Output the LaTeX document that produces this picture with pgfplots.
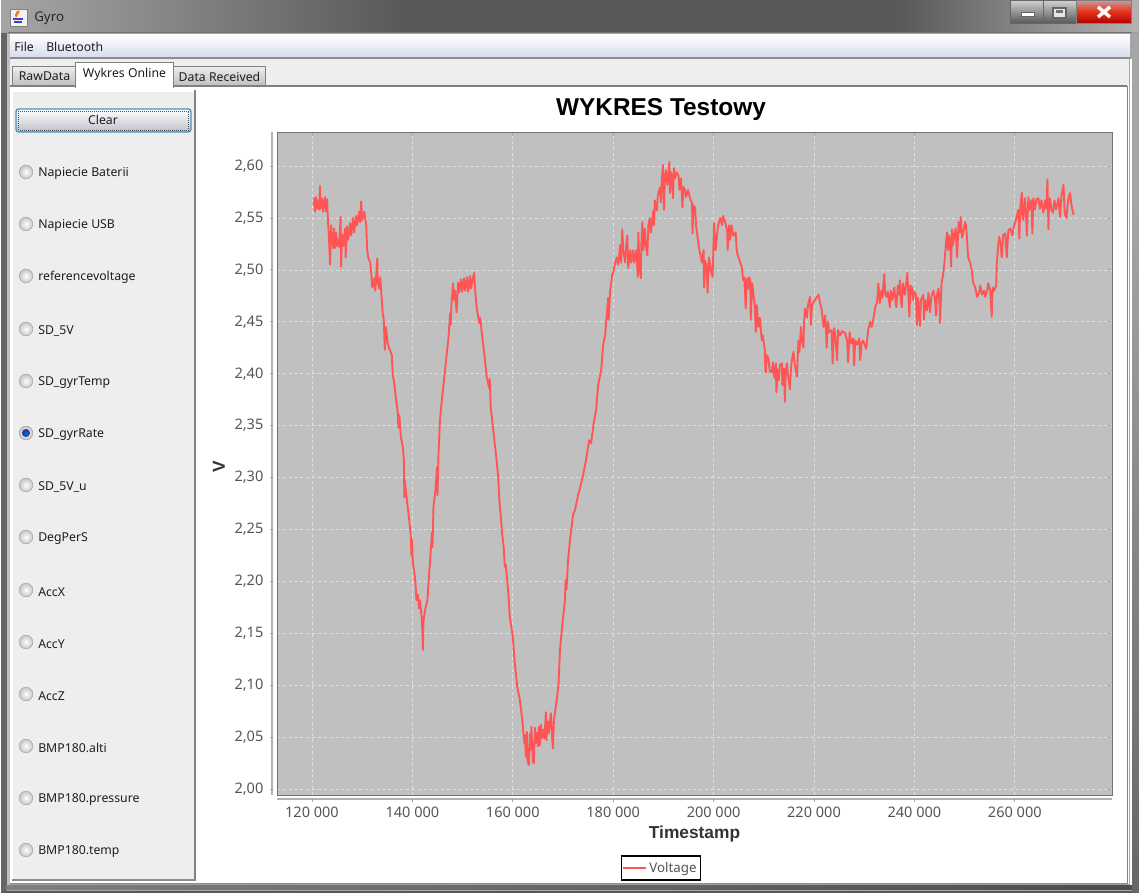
\documentclass[border=0pt]{standalone}
\usepackage{fontspec}
\setmainfont{Noto Sans}
\newfontfamily\boldf{Liberation Sans}[BoldFont={Liberation Sans Bold}]
\usepackage{pgfplots}
\pgfplotsset{compat=1.18}
\definecolor{linec}{RGB}{255,85,85}
\definecolor{plotbg}{RGB}{192,192,192}
\definecolor{panel}{RGB}{238,238,238}
\definecolor{frameg}{RGB}{160,160,160}
\definecolor{tickc}{RGB}{85,85,85}
\definecolor{uitext}{RGB}{30,30,30}
\definecolor{selblue}{RGB}{74,144,192}
\definecolor{menub}{RGB}{214,220,238}
\newcommand{\ui}{\fontsize{9.2pt}{11pt}\selectfont\color{uitext}}
\begin{document}
\begin{tikzpicture}
\useasboundingbox (0,0) rectangle (855pt,-671.25pt);
\begin{scope}[x=0.75pt,y=-0.75pt]
% window frame
\fill[white] (0,0) rectangle (1140,895);
\fill[frameg] (1,0) rectangle (1139,893);
\shade[left color=gray!70,right color=black!65] (1,0) rectangle (400,32);
\fill[black!65] (400,0) rectangle (900,32);
\shade[left color=black!65,right color=gray!60] (900,0) rectangle (1139,32);
\fill[black!55] (8,32) rectangle (1132,33.5);
\fill[black!60] (1.5,33) rectangle (6.5,892);
\fill[black!25] (6.5,34) rectangle (9.5,885);
% window buttons
\shade[top color=gray!35,bottom color=black!65,draw=black!60] (1010,0) rectangle (1043,23);
\shade[top color=gray!35,bottom color=black!65,draw=black!60] (1043,0) rectangle (1076,23);
\shade[top color=red!25!gray!60,bottom color=red!70!black,middle color=red!60!brown,draw=black!50] (1076,0) rectangle (1131,23);
\fill[white,draw=black!60] (1021,12) rectangle (1034,16);
\draw[black!60,line width=1.2pt,fill=white!80!gray] (1053,8) rectangle (1066,18);
\fill[black!55] (1056,10) rectangle (1063,13);
\draw[white,line width=2.6pt] (1098,7) -- (1110,17) (1098,17) -- (1110,7);
% Java icon
\fill[white!90!gray,draw=gray] (10,9) rectangle (27,26);
\fill[orange!90!red] (17,11) -- (20,11) -- (16,18) -- (15,15) -- cycle;
\draw[blue!50!gray,line width=.8pt] (13,19) -- (23,19) (14,22) -- (22,22);
\node[anchor=west,inner sep=0pt,text=black!85,font=\fontsize{10pt}{12pt}\selectfont] at (34,18) {Gyro};
% client
\fill[white] (9.5,34) rectangle (1130,884);
\shade[top color=white,bottom color=menub] (10,35) rectangle (1130,57);
\fill[black!45] (10,57.5) rectangle (1130,59);
\fill[panel] (10,59) rectangle (1130,86);
\node[anchor=west,inner sep=0pt] at (14,47) {\ui File};
\node[anchor=west,inner sep=0pt] at (46,47) {\ui Bluetooth};
% tabs
\shade[top color=panel,bottom color=black!25,draw=gray] (12,66) rectangle (75,86);
\shade[top color=panel,bottom color=black!25,draw=gray] (173,66) rectangle (265,86);
\fill[white] (10,87) rectangle (1127,884);
\draw[gray,line width=.9pt] (10,86) -- (1127,86) (1127.5,86) -- (1127.5,884);
\fill[white,draw=gray] (75,62) -- (173,62) -- (173,87) -- (75,87) -- cycle;
\fill[white] (75.5,84) rectangle (172.5,88);
\node[inner sep=0pt] at (44.5,76.5) {\ui RawData};
\node[inner sep=0pt] at (124.5,74.5) {\ui Wykres Online};
\node[inner sep=0pt] at (219.5,76.5) {\ui Data Received};
% left panel
\fill[panel] (13,92) rectangle (194,879);
\draw[black!50,line width=1.4pt] (195,90) -- (195,881);
\draw[black!45,line width=1pt] (12,880) -- (195,880);
% Clear
\shade[top color=white,bottom color=blue!10!gray!45,draw=selblue,line width=1pt,rounded corners=2pt] (16,109) rectangle (191,132);
\draw[black!70,densely dotted,line width=.5pt] (18.5,111) rectangle (188.5,130);
\node[inner sep=0pt] at (103,120) {\ui Clear};
% radios
\foreach \yy/\lbl in {172/Napiecie Baterii,224/Napiecie USB,276/referencevoltage,329/SD\_5V,381/SD\_gyrTemp,433/SD\_gyrRate,485/SD\_5V\_u,537/DegPerS,590/AccX,642/AccY,694/AccZ,746/BMP180.alti,798/BMP180.pressure,850/BMP180.temp}{
  \shade[inner color=white,outer color=gray!45,draw=gray!70] (26,\yy) circle[radius=6.8];
  \node[anchor=west,inner sep=0pt] at (38,\yy+1.7) {\ui \lbl};
}
\shade[inner color=blue!30!cyan!70!black,outer color=blue!60!black!85] (26,433) circle[radius=4];
% offset axis lines
\draw[black!30,line width=1pt] (272,132) -- (272,795);
\draw[black!30,line width=1pt] (277,799) -- (1112,799);
\end{scope}
\begin{axis}[
  at={(207.75pt,-596.25pt)},anchor=south west,
  scale only axis,width=626.25pt,height=497.25pt,
  xmin=113030,xmax=279360,ymin=1.9942,ymax=2.6328,
  xtick={120000,140000,160000,180000,200000,220000,240000,260000},
  ytick={2.00,2.05,2.10,2.15,2.20,2.25,2.30,2.35,2.40,2.45,2.50,2.55,2.60},
  scaled x ticks=false,scaled y ticks=false,
  xticklabels={120 000,140 000,160 000,180 000,200 000,220 000,240 000,260 000},
  yticklabels={{2,00},{2,05},{2,10},{2,15},{2,20},{2,25},{2,30},{2,35},{2,40},{2,45},{2,50},{2,55},{2,60}},
  axis background/.style={fill=plotbg},
  axis line style={draw=black!55,line width=.7pt},
  grid=major,
  grid style={draw=white!88!black,dash pattern=on 2.2pt off 2.2pt,line width=.55pt},
  tick align=outside,major tick length=2.2pt,
  x tick style={draw=black!35,line width=.6pt,yshift=-3pt},
  y tick style={draw=black!35,line width=.6pt,xshift=-3pt},
  xticklabel style={font=\fontsize{10.9pt}{12pt}\selectfont,text=tickc,yshift=-3.5pt},
  yticklabel style={font=\fontsize{10.9pt}{12pt}\selectfont,text=tickc,xshift=-4.5pt},
  xlabel={Timestamp},ylabel={V},
  x label style={at={(axis description cs:0.5,-0.0590)},anchor=center,font=\boldf\bfseries\fontsize{13pt}{15pt}\selectfont,text=black!80},
  y label style={at={(axis description cs:-0.0695,0.4947)},anchor=center,rotate=0,font=\boldf\bfseries\fontsize{13pt}{15pt}\selectfont,text=black!80},
  title={WYKRES Testowy},
  title style={at={(axis description cs:0.4599,1.0377)},anchor=center,yshift=-8.2pt,font=\boldf\bfseries\fontsize{18.3pt}{21pt}\selectfont,text=black},
  legend style={at={(axis description cs:0.4599,-0.1101)},anchor=center,draw=black,line width=1.1pt,fill=white,
     font=\fontsize{10pt}{12pt}\selectfont,text=tickc,inner xsep=1pt,inner ysep=2.4pt},
  legend image post style={line width=.9pt},
]
\addplot[color=linec,line width=1.4pt,line join=round] coordinates {
(120340,2.562)(120500,2.569)(120600,2.556)(120800,2.570)(121000,2.559)(121200,2.567)(121400,2.558)(121600,2.581)(121700,2.559)(122000,2.569)(122200,2.556)(122600,2.570)(122800,2.556)(123000,2.568)(123200,2.546)(123400,2.529)(123600,2.505)(123800,2.543)(124000,2.529)(124200,2.521)(124400,2.540)(124600,2.521)(124800,2.536)(125000,2.523)(125200,2.529)(125400,2.522)(125700,2.551)(125800,2.503)(126000,2.534)(126200,2.523)(126600,2.540)(126700,2.512)(127000,2.542)(127200,2.529)(127600,2.545)(127800,2.533)(128200,2.550)(128400,2.536)(128800,2.552)(129000,2.543)(129400,2.556)(129600,2.546)(129800,2.566)(130000,2.548)(130400,2.556)(130600,2.550)(130800,2.543)(131000,2.519)(131200,2.512)(131600,2.507)(131800,2.497)(132000,2.483)(132400,2.492)(132600,2.480)(133000,2.511)(133100,2.488)(133400,2.482)(133600,2.493)(133800,2.478)(134100,2.458)(134300,2.452)(134500,2.423)(134700,2.445)(135100,2.429)(135500,2.423)(135900,2.418)(136100,2.397)(136300,2.394)(136700,2.377)(137100,2.362)(137200,2.348)(137400,2.360)(137700,2.339)(138100,2.329)(138300,2.317)(138400,2.281)(138500,2.297)(138900,2.278)(139300,2.262)(139700,2.243)(139800,2.225)(139900,2.240)(140100,2.218)(140500,2.204)(140700,2.192)(140800,2.182)(141100,2.187)(141300,2.174)(141500,2.182)(141900,2.163)(142100,2.134)(142200,2.161)(142500,2.172)(143000,2.182)(143200,2.198)(143500,2.218)(143900,2.247)(144000,2.233)(144200,2.272)(144600,2.288)(144900,2.310)(145000,2.283)(145200,2.323)(145500,2.356)(146000,2.381)(146300,2.394)(146700,2.413)(147200,2.435)(147500,2.458)(147600,2.447)(147800,2.468)(148100,2.487)(148300,2.471)(148500,2.480)(148800,2.459)(149100,2.488)(149300,2.478)(149700,2.491)(149900,2.479)(150300,2.492)(150500,2.480)(150900,2.493)(151100,2.479)(151500,2.494)(151700,2.482)(152100,2.493)(152300,2.497)(152500,2.480)(152800,2.464)(153300,2.449)(153500,2.454)(153800,2.440)(154300,2.420)(154800,2.397)(155300,2.386)(155400,2.395)(155600,2.368)(156100,2.346)(156700,2.320)(157100,2.300)(157300,2.280)(157900,2.245)(158200,2.232)(158400,2.214)(158600,2.216)(159100,2.189)(159400,2.166)(160000,2.147)(160400,2.121)(160900,2.098)(161400,2.086)(161900,2.066)(162300,2.044)(162400,2.052)(162600,2.031)(162800,2.055)(162900,2.028)(163200,2.023)(163400,2.053)(163600,2.038)(163700,2.060)(164000,2.026)(164200,2.025)(164400,2.059)(164600,2.044)(164800,2.054)(165000,2.041)(165200,2.060)(165400,2.042)(165600,2.062)(165800,2.049)(166100,2.057)(166300,2.049)(166600,2.074)(166700,2.047)(167000,2.065)(167200,2.054)(167400,2.066)(167600,2.073)(167800,2.052)(168000,2.039)(168200,2.066)(168400,2.074)(168700,2.084)(169100,2.100)(169400,2.134)(169900,2.160)(170400,2.182)(170500,2.201)(170700,2.192)(171000,2.220)(171400,2.240)(172000,2.264)(172400,2.269)(173000,2.283)(173400,2.290)(174000,2.302)(174600,2.317)(175200,2.336)(175600,2.333)(176200,2.355)(176600,2.365)(177000,2.389)(177600,2.403)(178000,2.428)(178400,2.437)(178600,2.450)(179000,2.473)(179100,2.452)(179400,2.480)(179800,2.495)(180000,2.498)(180400,2.507)(180700,2.512)(181000,2.505)(181400,2.524)(181600,2.507)(181800,2.539)(182000,2.519)(182400,2.507)(182600,2.524)(182800,2.533)(183000,2.502)(183400,2.519)(183600,2.507)(184000,2.519)(184200,2.507)(184600,2.519)(184900,2.493)(185000,2.536)(185200,2.507)(185500,2.492)(185600,2.524)(185800,2.546)(186000,2.519)(186300,2.540)(186500,2.524)(186800,2.514)(187000,2.543)(187300,2.550)(187500,2.536)(188000,2.557)(188100,2.543)(188300,2.567)(188700,2.557)(188900,2.572)(189300,2.579)(189500,2.565)(189700,2.588)(189900,2.601)(190100,2.558)(190300,2.588)(190500,2.596)(190800,2.582)(191200,2.604)(191300,2.574)(191500,2.594)(191700,2.591)(191900,2.569)(192100,2.598)(192300,2.588)(192600,2.594)(193000,2.591)(193200,2.577)(193500,2.588)(193800,2.560)(194000,2.580)(194300,2.577)(194500,2.570)(194900,2.577)(195300,2.569)(195700,2.564)(195800,2.535)(196000,2.562)(196300,2.560)(196500,2.543)(196800,2.532)(197100,2.521)(197300,2.516)(197700,2.507)(198000,2.519)(198100,2.483)(198300,2.509)(198600,2.503)(198800,2.478)(199000,2.507)(199100,2.512)(199500,2.498)(199800,2.493)(200000,2.529)(200100,2.545)(200400,2.519)(200600,2.529)(200900,2.543)(201300,2.550)(201700,2.543)(201900,2.552)(202300,2.546)(202700,2.538)(202800,2.519)(203100,2.543)(203300,2.529)(203600,2.543)(203900,2.533)(204400,2.536)(204600,2.519)(204700,2.516)(205300,2.507)(205600,2.503)(205900,2.490)(206100,2.493)(206400,2.463)(206600,2.492)(206900,2.482)(207100,2.493)(207300,2.490)(207400,2.452)(207700,2.487)(207900,2.478)(208200,2.466)(208400,2.440)(208600,2.466)(208900,2.445)(209200,2.454)(209600,2.432)(209800,2.437)(210200,2.423)(210300,2.405)(210400,2.401)(210600,2.418)(210900,2.415)(211200,2.402)(211600,2.401)(211800,2.411)(212100,2.396)(212400,2.410)(212500,2.382)(212800,2.404)(213000,2.394)(213200,2.408)(213600,2.410)(213700,2.389)(214000,2.405)(214200,2.373)(214400,2.404)(214600,2.410)(214800,2.399)(215200,2.385)(215400,2.404)(215600,2.413)(215900,2.421)(216200,2.408)(216600,2.397)(216900,2.432)(217100,2.421)(217400,2.445)(217600,2.432)(217900,2.425)(218000,2.447)(218200,2.463)(218600,2.454)(218800,2.466)(219200,2.474)(219400,2.447)(219600,2.466)(219900,2.469)(220200,2.471)(220900,2.476)(221200,2.468)(221500,2.463)(221900,2.445)(222200,2.456)(222400,2.442)(222500,2.425)(222800,2.450)(223000,2.440)(223500,2.442)(223700,2.410)(224000,2.444)(224200,2.438)(224600,2.413)(224800,2.442)(225200,2.437)(225600,2.441)(226200,2.439)(226600,2.432)(226800,2.411)(227100,2.440)(227400,2.429)(227800,2.434)(228000,2.408)(228200,2.432)(228600,2.428)(229000,2.434)(229200,2.413)(229500,2.430)(229800,2.432)(230200,2.426)(230400,2.424)(230800,2.442)(231200,2.450)(231500,2.445)(231800,2.452)(232200,2.464)(232500,2.468)(232700,2.476)(232800,2.487)(233100,2.468)(233400,2.480)(233600,2.473)(234000,2.496)(234200,2.476)(234500,2.474)(234700,2.479)(235100,2.464)(235300,2.480)(235600,2.471)(236000,2.483)(236200,2.471)(236400,2.464)(236700,2.485)(237000,2.476)(237100,2.490)(237300,2.471)(237500,2.464)(237700,2.487)(238100,2.476)(238600,2.497)(238800,2.476)(239000,2.455)(239200,2.485)(239500,2.483)(239700,2.471)(240000,2.479)(240300,2.476)(240500,2.447)(240700,2.473)(240900,2.461)(241100,2.446)(241300,2.471)(241800,2.476)(241900,2.452)(242200,2.471)(242500,2.461)(242800,2.478)(243100,2.459)(243400,2.475)(243800,2.480)(244100,2.471)(244300,2.456)(244500,2.476)(244800,2.482)(245000,2.466)(245100,2.449)(245400,2.487)(245700,2.495)(245900,2.503)(246100,2.514)(246300,2.527)(246500,2.536)(246700,2.519)(246900,2.533)(247100,2.529)(247300,2.503)(247500,2.539)(247700,2.524)(247900,2.532)(248200,2.540)(248500,2.512)(248800,2.546)(249100,2.536)(249200,2.551)(249500,2.531)(249700,2.535)(250100,2.546)(250300,2.543)(250500,2.529)(250700,2.512)(251100,2.507)(251400,2.500)(251700,2.488)(252100,2.483)(252500,2.474)(252900,2.478)(253100,2.485)(253500,2.476)(253900,2.480)(254100,2.474)(254500,2.480)(254700,2.487)(255100,2.480)(255400,2.455)(255600,2.483)(255900,2.480)(256300,2.485)(256400,2.505)(256700,2.524)(256900,2.532)(257200,2.524)(257400,2.512)(257700,2.534)(258100,2.535)(258300,2.519)(258400,2.512)(258700,2.538)(259100,2.540)(259500,2.533)(259800,2.542)(260100,2.546)(260400,2.552)(260700,2.558)(260900,2.530)(261100,2.562)(261400,2.574)(261500,2.553)(261700,2.548)(262000,2.569)(262200,2.558)(262400,2.533)(262700,2.570)(263000,2.558)(263300,2.567)(263500,2.535)(263700,2.569)(264000,2.558)(264300,2.568)(264700,2.569)(265000,2.559)(265300,2.567)(265700,2.555)(266000,2.567)(266300,2.559)(266500,2.587)(266700,2.539)(266800,2.562)(267000,2.569)(267300,2.558)(267600,2.555)(267900,2.567)(268200,2.558)(268700,2.569)(269000,2.551)(269300,2.572)(269700,2.582)(269900,2.558)(270000,2.553)(270300,2.550)(270600,2.567)(271000,2.574)(271300,2.562)(271700,2.553)
};
\addlegendentry{Voltage}
\end{axis}
\begin{scope}[x=0.75pt,y=-0.75pt]
\draw[black!45,line width=.8pt] (10,883.5) -- (1128,883.5);
\shade[left color=black!50,right color=black!70] (6.5,885) rectangle (1133,890);
\fill[black!35] (6.5,890) rectangle (1139,891);
\fill[black!65] (1.5,891) rectangle (1139,893);
\fill[black!35] (1128.5,59) rectangle (1130,885);
\fill[white] (1130,59) rectangle (1131.5,885);
\shade[top color=gray!70,bottom color=black!60] (1132,200) rectangle (1138.5,892);
\fill[gray!70] (1132,34) rectangle (1138.5,200);
\end{scope}
\end{tikzpicture}
\end{document}
